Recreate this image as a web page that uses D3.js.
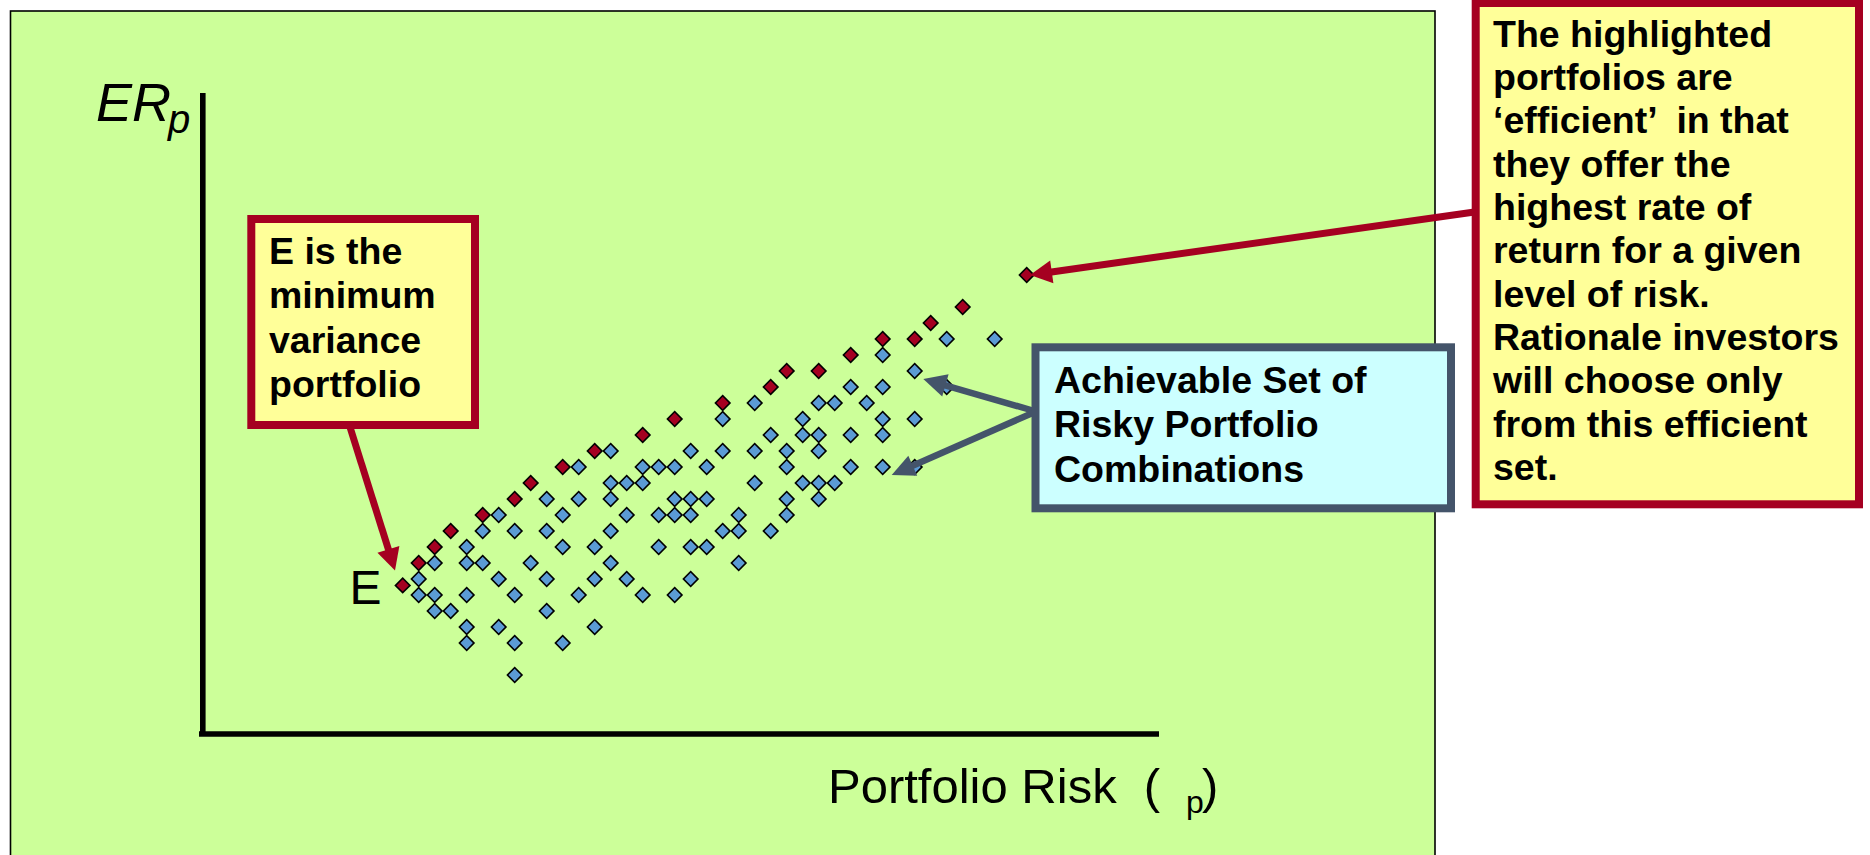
<!DOCTYPE html>
<html>
<head>
<meta charset="utf-8">
<script src="https://cdn.jsdelivr.net/npm/d3@7"></script>
<style>
  html, body { margin: 0; padding: 0; background: #ffffff; }
  svg { display: block; }
  text { font-family: "Liberation Sans", Arial, Helvetica, sans-serif; }
</style>
</head>
<body>
<script>
// Efficient portfolios (risk, expected return) in chart units
const efficientRisk   = [0, 1, 2, 3, 5, 7, 8, 10, 12, 15, 17, 20, 23, 24, 26, 28, 30, 32, 33, 35, 39];
const efficientReturn = [5.6, 7, 8, 9, 10, 11, 12, 13, 14, 15, 16, 17, 18, 19, 19, 20, 21, 21, 22, 23, 25];

// Remaining achievable risky portfolio combinations
const setRisk = [
  7,
  4, 7, 10,
  4, 6, 12,
  2, 3, 9,
  1, 2, 4, 7, 11, 15, 17,
  1, 6, 9, 12, 14, 18,
  2, 4, 5, 8, 13, 21,
  4, 10, 12, 16, 18, 19,
  5, 7, 9, 13, 20, 21, 23,
  6, 10, 14, 16, 17, 18, 21, 24,
  9, 11, 13, 17, 18, 19, 24, 26,
  13, 14, 15, 22, 25, 26, 27,
  11, 15, 16, 17, 19, 24, 28, 30, 32,
  13, 18, 20, 22, 24, 26,
  23, 25, 26, 28, 30,
  20, 25, 30, 32,
  22, 26, 27, 29,
  28, 30, 34,
  32,
  30,
  34, 37
];
const setReturn = [
  0,
  2, 2, 2,
  3, 3, 3,
  4, 4, 4,
  5, 5, 5, 5, 5, 5, 5,
  6, 6, 6, 6, 6, 6,
  7, 7, 7, 7, 7, 7,
  8, 8, 8, 8, 8, 8,
  9, 9, 9, 9, 9, 9, 9,
  10, 10, 10, 10, 10, 10, 10, 10,
  11, 11, 11, 11, 11, 11, 11, 11,
  12, 12, 12, 12, 12, 12, 12,
  13, 13, 13, 13, 13, 13, 13, 13, 13,
  14, 14, 14, 14, 14, 14,
  15, 15, 15, 15, 15,
  16, 16, 16, 16,
  17, 17, 17, 17,
  18, 18, 18,
  19,
  20,
  21, 21
];

// Annotation texts
const minVarianceLines = ["E is the", "minimum", "variance", "portfolio"];
const achievableLines = ["Achievable Set of", "Risky Portfolio", "Combinations"];
const efficientNoteLines = [
  "The highlighted",
  "portfolios are",
  "\u2018efficient\u2019  in that",
  "they offer the",
  "highest rate of",
  "return for a given",
  "level of risk.",
  "Rationale investors",
  "will choose only",
  "from this efficient",
  "set."
];

const W = 1870, H = 855;
const RED = "#a50021", SLATE = "#44546a", BLUE = "#5b9bd5";

const svg = d3.select("body").append("svg")
  .attr("width", W).attr("height", H)
  .attr("viewBox", `0 0 ${W} ${H}`);

svg.append("rect").attr("width", W).attr("height", H).attr("fill", "#ffffff");

// Slide panel
svg.append("rect")
  .attr("x", 10.5).attr("y", 11).attr("width", 1424.5).attr("height", 870)
  .attr("fill", "#ccff99").attr("stroke", "#000").attr("stroke-width", 1.6);

const x = d3.scaleLinear().domain([0, 39]).range([402.7, 1026.7]);
const y = d3.scaleLinear().domain([0, 25]).range([675, 275]);

// Axes
const axisX0 = 202.8, axisY0 = 734;
svg.append("line")
  .attr("x1", axisX0).attr("y1", 93).attr("x2", axisX0).attr("y2", axisY0)
  .attr("stroke", "#000").attr("stroke-width", 5.6);
svg.append("line")
  .attr("x1", 199).attr("y1", axisY0).attr("x2", 1159).attr("y2", axisY0)
  .attr("stroke", "#000").attr("stroke-width", 5.6);

// Axis titles
const yTitle = svg.append("text").attr("font-style", "italic").attr("fill", "#000");
yTitle.append("tspan").attr("x", 96).attr("y", 121).attr("font-size", 54).text("ER");
yTitle.append("tspan").attr("x", 168).attr("y", 133).attr("font-size", 40).text("p");

const xTitle = svg.append("text").attr("fill", "#000").style("white-space", "pre");
xTitle.append("tspan").attr("x", 828).attr("y", 803).attr("font-size", 49).text("Portfolio Risk  (");
xTitle.append("tspan").attr("x", 1186).attr("y", 813).attr("font-size", 32).text("p");
xTitle.append("tspan").attr("x", 1202).attr("y", 803).attr("font-size", 49).text(")");

// Portfolio markers
const diamond = d3.symbol().type(d3.symbolSquare).size(106)();
const setData = setRisk.map((r, i) => ({ risk: r, ret: setReturn[i] }));
const effData = efficientRisk.map((r, i) => ({ risk: r, ret: efficientReturn[i] }));

svg.append("g").selectAll("path").data(setData).join("path")
  .attr("d", diamond)
  .attr("transform", d => `translate(${x(d.risk)},${y(d.ret)}) rotate(45)`)
  .attr("fill", BLUE).attr("stroke", "#000").attr("stroke-width", 1.6);

svg.append("g").selectAll("path").data(effData).join("path")
  .attr("d", diamond)
  .attr("transform", d => `translate(${x(d.risk)},${y(d.ret)}) rotate(45)`)
  .attr("fill", RED).attr("stroke", "#000").attr("stroke-width", 1.6);

// Label for the minimum variance portfolio
svg.append("text").attr("x", 349.5).attr("y", 603.5).attr("font-size", 48)
  .attr("fill", "#000").text("E");

// Arrow helper: shaft plus triangular head ending at tip
function arrow(from, tip, color, width, headLen, headHalf) {
  const dx = tip[0] - from[0], dy = tip[1] - from[1];
  const len = Math.hypot(dx, dy);
  const ux = dx / len, uy = dy / len;
  const bx = tip[0] - ux * headLen, by = tip[1] - uy * headLen;
  const nx = -uy, ny = ux;
  svg.append("line")
    .attr("x1", from[0]).attr("y1", from[1])
    .attr("x2", bx + ux * 2).attr("y2", by + uy * 2)
    .attr("stroke", color).attr("stroke-width", width);
  svg.append("path")
    .attr("d", `M${tip[0]},${tip[1]}L${bx + nx * headHalf},${by + ny * headHalf}L${bx - nx * headHalf},${by - ny * headHalf}Z`)
    .attr("fill", color);
}

const topPoint = effData[effData.length - 1];
const minVar = effData[0];
arrow([1478, 211.5], [x(topPoint.risk) + 3.3, y(topPoint.ret)], RED, 7, 22, 11.5);
arrow([1036, 411.5], [923.3, 379], SLATE, 6.5, 23, 11.5);
arrow([1036, 411.5], [891.7, 475], SLATE, 6.5, 23, 11);
arrow([349, 424], [x(minVar.risk) - 7.7, y(minVar.ret) - 15], RED, 7, 22, 11.5);

// Callout boxes
function callout(bx, by, bw, bh, fill, stroke, lines, tx, ty0, dy) {
  svg.append("rect")
    .attr("x", bx).attr("y", by).attr("width", bw).attr("height", bh)
    .attr("fill", fill).attr("stroke", stroke).attr("stroke-width", 8);
  const t = svg.append("text").attr("font-weight", "bold").attr("font-size", 37.5)
    .attr("fill", "#000").style("white-space", "pre");
  lines.forEach((s, i) => t.append("tspan").attr("x", tx).attr("y", ty0 + i * dy).text(s));
}

callout(251.3, 219, 223.7, 206, "#ffff99", RED, minVarianceLines, 269, 264, 44.4);
callout(1035.5, 347.3, 415.5, 161, "#ccffff", SLATE, achievableLines, 1054, 392.5, 44.6);
callout(1475.7, 3, 383.3, 501.3, "#ffff99", RED, efficientNoteLines, 1493, 46.7, 43.33);
</script>
</body>
</html>
